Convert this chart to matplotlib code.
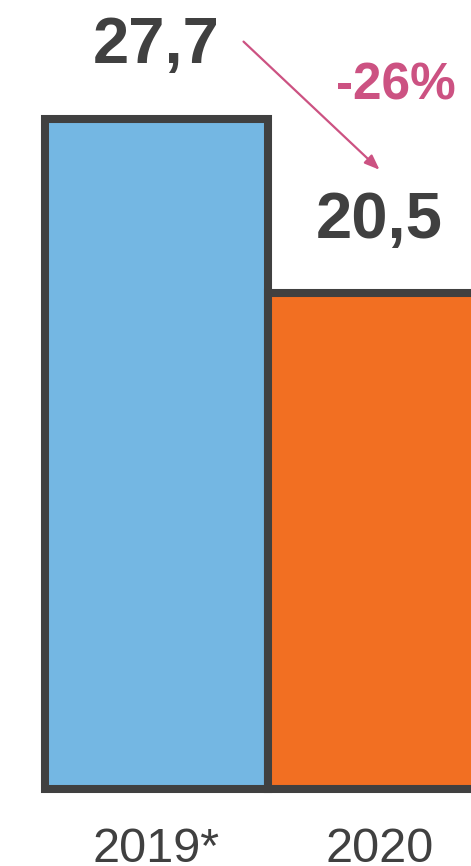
from matplotlib import pyplot

years = ["2019*", "2020"]
values = [27.7, 20.5]
value_labels = ["27,7", "20,5"]
change_label = "-26%"

bar_colors = ["#74B7E3", "#F26F22"]
edge_color = "#404040"
accent = "#CC5282"

pyplot.rcParams["font.family"] = ["Liberation Sans", "DejaVu Sans"]

fig = pyplot.figure(
    figsize=(4.71, 8.66),
    dpi=100,
)
ax = fig.add_axes([0, 0.0889, 1, 0.9111])
positions = list(range(len(years)))
ax.bar(
    positions,
    values,
    width=1.0,
    color=bar_colors,
    edgecolor=edge_color,
    linewidth=5.8,
    clip_on=False,
)
for x, v, label in zip(positions, values, value_labels):
    ax.annotate(
        label,
        xy=(x, v),
        xytext=(0, 40),
        textcoords="offset points",
        ha="center",
        va="baseline",
        fontsize=47,
        fontweight="bold",
        color=edge_color,
    )

# change arrow between the two values
ax.annotate(
    "",
    xy=(1.0, 25.6),
    xytext=(0.39, 30.9),
    arrowprops=dict(
        arrowstyle="-|>,head_length=0.9,head_width=0.35",
        color=accent,
        linewidth=1.6,
        shrinkA=0,
        shrinkB=0,
    ),
)
ax.text(
    1.074,
    28.5,
    change_label,
    ha="center",
    va="baseline",
    fontsize=37,
    fontweight="bold",
    color=accent,
)

ax.set_xlim(-0.702, 1.41)
ax.set_ylim(0, 32.62)
ax.set_xticks(positions, years)
ax.tick_params(
    axis="x",
    length=0,
    pad=27,
    labelsize=35,
    labelcolor=edge_color,
)
ax.set_yticks([])
for spine in ax.spines.values():
    spine.set_visible(False)

fig.savefig("out.png", dpi=100)
